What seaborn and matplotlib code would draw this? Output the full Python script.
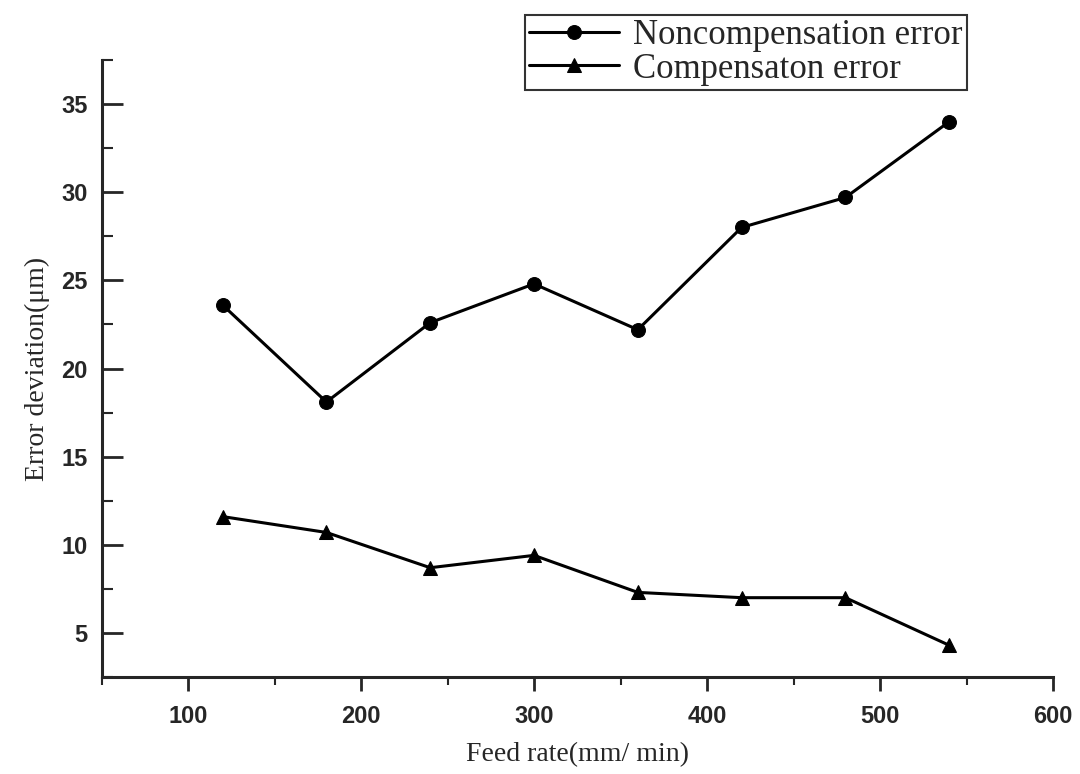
# Feed rate vs. error deviation, with and without compensation

import matplotlib
matplotlib.use("Agg")
import matplotlib.pyplot as plt
from matplotlib.ticker import MultipleLocator
import seaborn as sns
import pandas as pd

# ============================== Data ==============================
feed_rate = [120, 180, 240, 300, 360, 420, 480, 540]
noncomp_error = [23.6, 18.1, 22.6, 24.8, 22.2, 28.0, 29.7, 34.0]
comp_error = [11.6, 10.7, 8.7, 9.4, 7.3, 7.0, 7.0, 4.3]
series_names = ["Noncompensation error", "Compensaton error"]

data = pd.concat([
    pd.DataFrame({"feed": feed_rate, "err": noncomp_error, "series": series_names[0]}),
    pd.DataFrame({"feed": feed_rate, "err": comp_error, "series": series_names[1]}),
], ignore_index=True)

# ============================== Plot ==============================
sns.set_style("ticks")
plt.rcParams["font.family"] = ["Liberation Sans", "DejaVu Sans"]

fig = plt.figure(figsize=(10.8, 7.74), dpi=100)
ax = fig.add_axes([0.094, 0.1253, 0.881, 0.7972])

sns.lineplot(data=data, x="feed", y="err", style="series", markers=["o", "^"],
             dashes=False, color="black", linewidth=2.2, markersize=10,
             markeredgecolor="black", ax=ax)

ax.set_xlim(50, 600)
ax.set_ylim(2.5, 37.5)
ax.xaxis.set_major_locator(MultipleLocator(100))
ax.xaxis.set_minor_locator(MultipleLocator(50))
ax.yaxis.set_major_locator(MultipleLocator(5))
ax.yaxis.set_minor_locator(MultipleLocator(2.5))
ax.set_yticks([5, 10, 15, 20, 25, 30, 35])

ax.tick_params(axis="x", which="major", direction="out", length=10, width=2, pad=10)
ax.tick_params(axis="x", which="minor", direction="out", length=6, width=1.5)
ax.tick_params(axis="y", which="major", direction="in", length=15, width=2, pad=10)
ax.tick_params(axis="y", which="minor", direction="in", length=8, width=1.5)
for lab in ax.get_xticklabels() + ax.get_yticklabels():
    lab.set_fontsize(17)
    lab.set_fontweight("bold")

for side in ["top", "right"]:
    ax.spines[side].set_visible(False)
for side in ["left", "bottom"]:
    ax.spines[side].set_linewidth(2.2)

ax.set_xlabel("Feed rate(mm/ min)", fontsize=20, family="Liberation Serif", labelpad=10)
ax.set_ylabel("Error deviation(μm)", fontsize=20, family="Liberation Serif", labelpad=8)

handles, labels = ax.get_legend_handles_labels()
leg = ax.legend(handles, labels, loc="upper left", bbox_to_anchor=(0.486, 0.981),
                bbox_transform=fig.transFigure, frameon=True, fancybox=False,
                edgecolor="black", prop={"family": "Liberation Serif", "size": 25},
                handlelength=2.6, handletextpad=0.4, borderpad=0.12,
                labelspacing=0.02, borderaxespad=0)
leg.get_frame().set_linewidth(1.5)

plt.savefig("out.png", dpi=100)
